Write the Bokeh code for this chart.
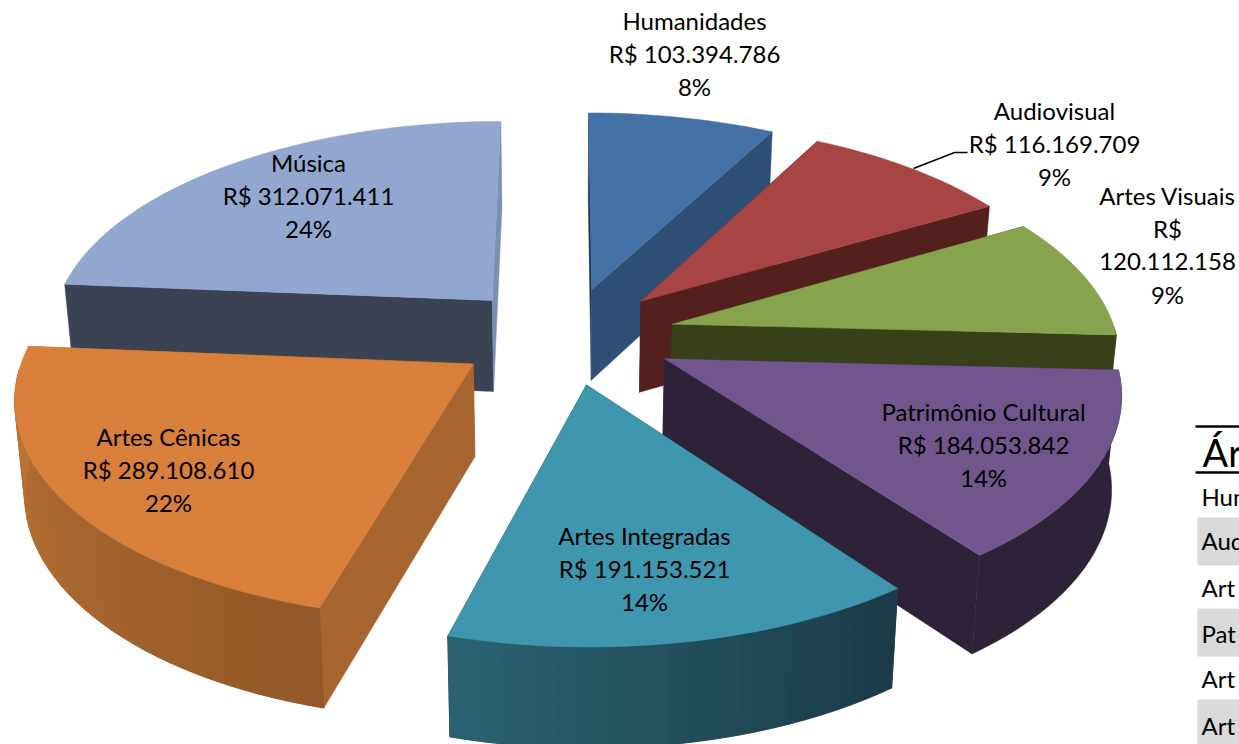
import numpy as np
from bokeh.plotting import figure
from bokeh.models import Range1d
from bokeh.core.properties import value
from bokeh.embed import file_html
from bokeh.resources import INLINE

# ---------- data ----------
categories = ["Humanidades", "Audiovisual", "Artes Visuais", "Patrimônio Cultural",
              "Artes Integradas", "Artes Cênicas", "Música"]
amounts = [103394786, 116169709, 120112158, 184053842, 191153521, 289108610, 312071411]
percent_labels = ["8%", "9%", "9%", "14%", "14%", "22%", "24%"]
table_header = "Ár"
table_rows = ["Hum", "Aud", "Art", "Pat", "Art", "Art"]

# ---------- styles ----------
top_colors = ["#4472A6", "#A64544", "#87A34D", "#71568E", "#3F97AF", "#D87F3B", "#92A7CF"]
wall_start = ["#1E3550", "#53201E", "#384019", "#2D2238", "#1A3B47", "#A7662F", "#3B4254"]
wall_end = ["#2F5076", "#53201E", "#384019", "#2D2238", "#1A3B47", "#A7662F", "#7C8FB2"]
outer_grad = [("#2F5076", "#2F5076"), ("#53201E", "#53201E"), ("#384019", "#384019"),
              ("#2D2238", "#2D2238"), ("#1A3B47", "#2B6272"), ("#925829", "#BB7434"),
              ("#3B4254", "#3B4254")]

# ---------- projection (layout) ----------
CX, CY = 565.0, 335.0
SX, SY, K = 451.0, 212.0, 0.135
EXPLODE_X, EXPLODE_Y, RADIUS_X = 0.245, 0.23, 0.985
DEPTH_A, DEPTH_B = 45.0, 47.0
INWARD = 0.982


def project(X, Y, bottom=False):
    X, Y = np.asarray(X, float), np.asarray(Y, float)
    w = 1 + K * Y
    x = CX + SX * X / w
    y = CY - SY * Y / w
    if bottom:
        y = y + DEPTH_A + DEPTH_B / w
        x = CX + (x - CX) * INWARD
    return x, y


def hexmix(a, b, t):
    ca = [int(a[i:i + 2], 16) for i in (1, 3, 5)]
    cb = [int(b[i:i + 2], 16) for i in (1, 3, 5)]
    return "#%02x%02x%02x" % tuple(round(u + (v - u) * t) for u, v in zip(ca, cb))


vals = np.array(amounts, float)
edges = np.concatenate([[0], np.cumsum(vals) / vals.sum() * 2 * np.pi])

p = figure(width=1239, height=744, x_range=Range1d(0, 1239), y_range=Range1d(744, 0),
           toolbar_location=None, output_backend="svg", min_border=0)
p.axis.visible = False
p.grid.visible = False
p.outline_line_color = None

order = [0, 1, 2, 3, 6, 5, 4]
for i in order:
    a0, a1 = edges[i], edges[i + 1]
    mid = (a0 + a1) / 2
    ox, oy = EXPLODE_X * np.sin(mid), EXPLODE_Y * np.cos(mid)
    th = np.linspace(a0, a1, max(int(np.degrees(a1 - a0) / 2), 8) + 1)
    ax, ay = ox + RADIUS_X * np.sin(th), oy + np.cos(th)
    tx, ty = project(ax, ay)
    bx, by = project(ax, ay, True)
    apx, apy = project(ox, oy)
    abx, aby = project(ox, oy, True)

    # radial walls
    xs = [[float(apx), float(tx[0]), float(bx[0]), float(abx)],
          [float(apx), float(tx[-1]), float(bx[-1]), float(abx)]]
    ys = [[float(apy), float(ty[0]), float(by[0]), float(aby)],
          [float(apy), float(ty[-1]), float(by[-1]), float(aby)]]
    c = [wall_start[i], wall_end[i]]
    p.patches(xs, ys, fill_color=c, line_color=c, line_width=0.5)

    # outer wall, only where it faces the viewer: a base shape, then shading strips
    front = np.cos(th) <= 0
    if front.sum() >= 2:
        fx, fy, gx, gy = tx[front], ty[front], bx[front], by[front]
        c0, c1 = outer_grad[i]
        base = hexmix(c0, c1, 0.5)
        p.patch(list(map(float, np.concatenate([fx, gx[::-1]]))),
                list(map(float, np.concatenate([fy, gy[::-1]]))),
                fill_color=base, line_color=base, line_width=0.5)
        if c0 != c1:
            n = len(fx) - 1
            sx = [list(map(float, [fx[j], fx[j + 1], gx[j + 1], gx[j]])) for j in range(n)]
            sy = [list(map(float, [fy[j], fy[j + 1], gy[j + 1], gy[j]])) for j in range(n)]
            sc = [hexmix(c0, c1, j / max(n - 1, 1)) for j in range(n)]
            p.patches(sx, sy, fill_color=sc, line_color=sc, line_width=0.7)

    # top face
    p.patch([float(apx)] + [float(v) for v in tx], [float(apy)] + [float(v) for v in ty],
            fill_color=top_colors[i], line_color=top_colors[i], line_width=0.5)

# ---------- labels ----------
FONT = value("Lato")
label_layout = {  # centre x, first-line y
    0: (694, 20), 1: (1054, 110), 2: (1167, 195), 3: (983, 411),
    4: (644, 535), 5: (168, 436), 6: (308, 162),
}
LINE = 33
for i, (lx, ly) in label_layout.items():
    money = f"{amounts[i]:,}".replace(",", ".")
    lines = [categories[i], "R$ " + money, percent_labels[i]]
    if i == 2:
        lines = [categories[i], "R$", money, percent_labels[i]]
    p.text([lx] * len(lines), [ly + k * LINE for k in range(len(lines))], text=lines,
           text_font=FONT, text_font_size="24px", text_align="center",
           text_baseline="middle", text_color="#000000")

p.line([913, 954, 967], [168, 152, 152], line_color="#000000", line_width=1.5)

# ---------- clipped table at the right ----------
p.quad(left=[1197] * 3, right=[1239] * 3, top=[517, 608, 699], bottom=[565, 656, 744],
       fill_color="#D9D9D9", line_color=None)
p.line([1195, 1239], [426, 426], line_color="#000000", line_width=2.5)
p.line([1195, 1239], [472, 472], line_color="#000000", line_width=2.5)
p.text([1202], [451], text=[table_header], text_font=FONT, text_font_size="38px",
       text_align="left", text_baseline="middle", text_color="#000000")
p.text([1201] * 6, [496, 540, 587, 633, 678, 725], text=table_rows, text_font=FONT,
       text_font_size="24px", text_align="left", text_baseline="middle", text_color="#000000")

open("out.html", "w").write(file_html(p, INLINE))
